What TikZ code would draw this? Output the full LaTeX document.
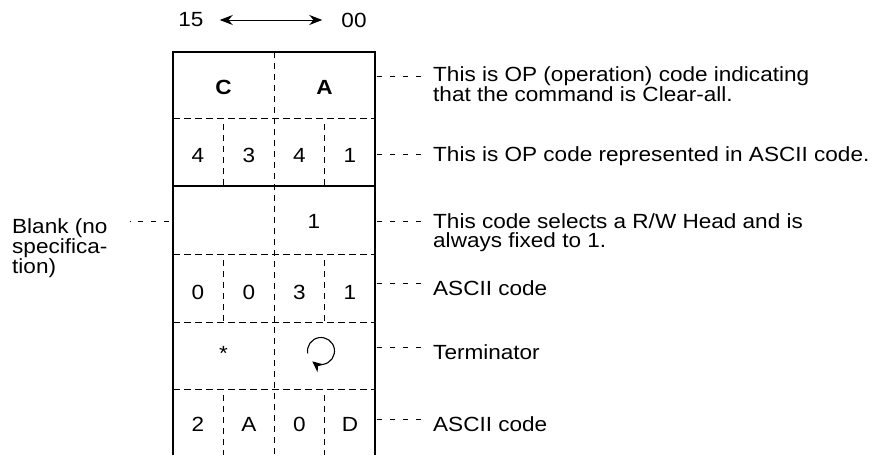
\documentclass[tikz,border=0pt]{standalone}
\usepackage{fontspec}
\setmainfont{Liberation Sans}[FakeStretch=1.1]
\usetikzlibrary{arrows.meta}

\tikzset{
  box/.style={line width=2.4pt},
  rowline/.style={line width=0.9pt, dash pattern=on 7pt off 4pt},
  colline/.style={line width=0.9pt, dash pattern=on 6pt off 5pt},
  leader/.style={line width=0.8pt, dash pattern=on 5pt off 8pt},
  cell/.style={inner sep=0pt, font=\fontsize{20.5}{19}\selectfont},
  note/.style={inner sep=0pt, align=left, font=\fontsize{20.5}{19}\selectfont},
}

\begin{document}
\begin{tikzpicture}[x=1pt,y=-1pt]
  \useasboundingbox (0,0) rectangle (883,455);
  %bit order
  \node[cell] (b15) at (191,20) {15};
  \node[cell] (b00) at (354,20) {00};
  \draw[{Stealth[length=13pt,width=10pt]}-{Stealth[length=13pt,width=10pt]}, line width=1pt,
        shorten <=16pt, shorten >=19pt] (b15.east) -- (b00.west);
  %frame
  \coordinate (tl) at (173,52);
  \coordinate (tr) at (375,52);
  \draw[box] (173,455) -- (tl) -- (tr) -- (375,455);
  \foreach \y in {118,254,322,389}
    \draw[rowline] (173,\y) -- (375,\y);
  \draw[line width=1.4pt] (173,186) -- (375,186);
  \draw[colline] (274,52) -- (274,455);
  \foreach \t/\b in {124/186,260/322,395/455}
    \draw[colline] (223.5,\t) -- (223.5,\b) (324.5,\t) -- (324.5,\b);
  %(1)
  \node[cell, font=\fontsize{20.5}{19}\selectfont\bfseries] (c1a) at (223.5,87) {C};
  \node[cell, font=\fontsize{20.5}{19}\selectfont\bfseries] (c1b) at (324.5,87) {A};
  %(2)
  \node[cell] (c2a) at (198,155) {4};
  \node[cell] (c2b) at (249,155) {3};
  \node[cell] (c2c) at (299.5,155) {4};
  \node[cell] (c2d) at (350,155) {1};
  %(3)
  \node[cell] (c3b) at (314,221) {1};
  %(4)
  \node[cell] (c4a) at (198,292) {0};
  \node[cell] (c4b) at (249,292) {0};
  \node[cell] (c4c) at (299.5,292) {3};
  \node[cell] (c4d) at (350,292) {1};
  %(5)
  \node[cell] (c5a) at (223.5,353) {*};
  \coordinate (crt) at (321,351);
  \draw[-{Stealth[length=11pt,width=10pt]}, line width=1.1pt]
    (crt) ++(170:13.5) arc[start angle=170, end angle=490, radius=13.5];
  %(6)
  \node[cell] (c6a) at (198,424) {2};
  \node[cell] (c6b) at (249,424) {A};
  \node[cell] (c6c) at (299.5,424) {0};
  \node[cell] (c6d) at (350,424) {D};
  %notes
  \node[note, anchor=north west] (opname) at (433,66)
    {This is OP (operation) code indicating\\that the command is Clear-all.};
  \node[note, anchor=base west] (opascii) at (433,161)
    {This is OP code represented in ASCII code.};
  \node[note, anchor=north west] (head) at (433,213)
    {This code selects a R/W Head and is\\always fixed to 1.};
  \node[note, anchor=base west] (ascii1) at (433,295) {ASCII code};
  \node[note, anchor=base west] (term) at (433,359) {Terminator};
  \node[note, anchor=base west] (ascii2) at (433,431) {ASCII code};
  \node[note, anchor=north west] (blank) at (12,218) {Blank (no\\specifica-\\tion)};
  %leaders
  \coordinate (r1) at (377,76);
  \coordinate (r2) at (377,154);
  \coordinate (r3) at (377,221);
  \coordinate (r4) at (377,283);
  \coordinate (r5) at (377,347);
  \coordinate (r6) at (377,419);
  \coordinate (l3) at (169,221);
  \draw[leader, shorten >=6pt] (r1) -- (opname.west |- r1);
  \draw[leader, shorten >=6pt] (r2) -- (opascii.west |- r2);
  \draw[leader, shorten >=6pt] (r3) -- (head.west |- r3);
  \draw[leader, shorten >=6pt] (r4) -- (ascii1.west |- r4);
  \draw[leader, shorten >=6pt] (r5) -- (term.west |- r5);
  \draw[leader, shorten >=6pt] (r6) -- (ascii2.west |- r6);
  \draw[leader, shorten >=22pt] (l3) -- (blank.east |- l3);
\end{tikzpicture}
\end{document}
